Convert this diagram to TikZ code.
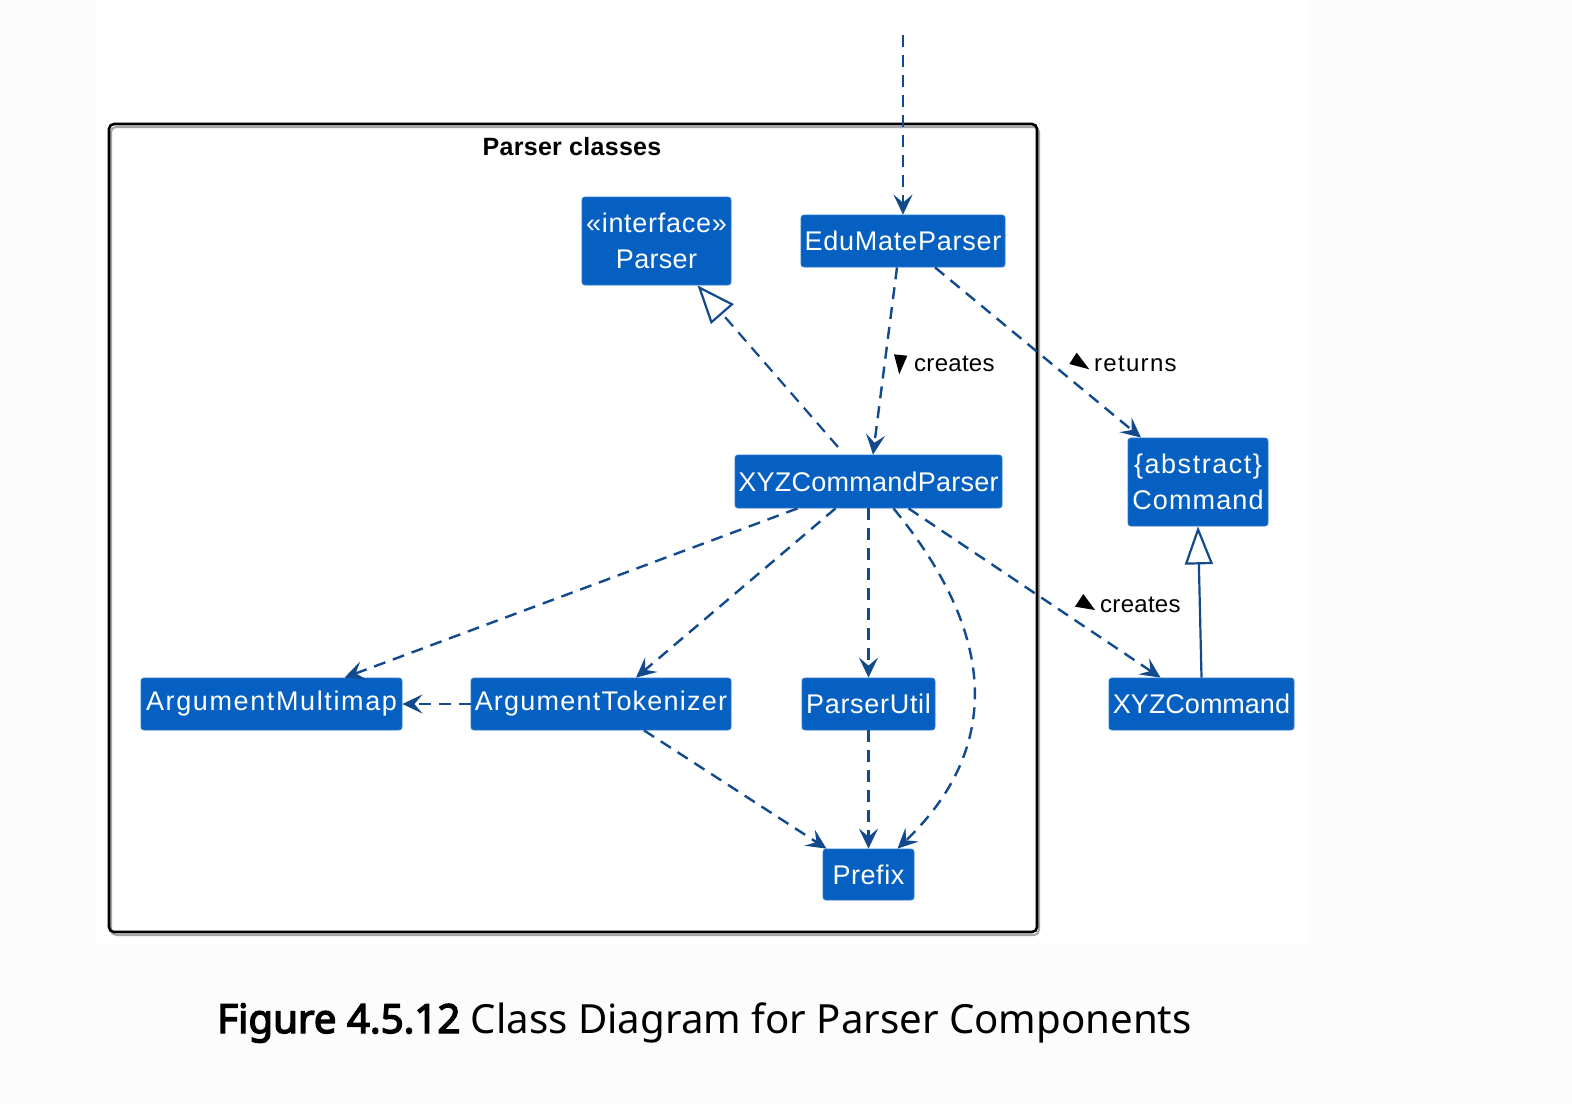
\documentclass[tikz,border=0pt]{standalone}
\usepackage{fontspec}
\setmainfont{Liberation Sans}
\newfontfamily\capfont{Noto Sans}
\newfontfamily\capbold{Noto Sans}[FakeBold=3.5]
\usetikzlibrary{arrows.meta}
\definecolor{boxblue}{HTML}{0560C2}
\definecolor{boxedge}{HTML}{2A78CF}
\definecolor{linkblue}{HTML}{134A8E}
\definecolor{pagebg}{HTML}{FCFCFC}
\newcommand{\ls}[2]{{\addfontfeature{LetterSpace=#1}#2}}
\tikzset{
  cls/.style={draw=boxedge, line width=0.8pt, fill=boxblue, rounded corners=3pt, text=white,
    font=\fontsize{27}{36}\selectfont, inner sep=0pt, align=center},
  dep/.style={draw=linkblue, line width=2.4pt, dash pattern=on 12pt off 8pt,
    -{Stealth[length=20pt,width=19pt,inset=8pt]}},
  realize/.style={draw=linkblue, line width=2.2pt, dash pattern=on 12pt off 8pt,
    -{Triangle[open,length=38pt,width=30pt,fill=white]}},
  extend/.style={draw=linkblue, line width=2.2pt,
    -{Triangle[open,length=38pt,width=28pt,fill=white]}},
  lbl/.style={font=\fontsize{24}{28}\selectfont, anchor=west, inner sep=0pt},
}
\begin{document}
\begin{tikzpicture}[x=1pt,y=-1pt]
\useasboundingbox (0,0) rectangle (1572,1104);
\fill[pagebg] (0,0) rectangle (1572,1104);
\fill[white] (95,0) rectangle (1308,945);
% package frame
\draw[gray!70, line width=2pt, rounded corners=5pt] (111,127) rectangle (1039,935);
\draw[black, line width=2.6pt, rounded corners=5pt] (109,124) rectangle (1037,932);
\node[font=\bfseries\fontsize{25}{29}\selectfont, inner sep=0pt] (pkg) at (572,147) {\ls{1.2}{Parser classes}};

% classes
\node[cls, minimum width=149pt, minimum height=88pt] (parser) at (656.5,241) {\ls{2.7}{«interface»}\\\ls{1.2}{Parser}};
\node[cls, minimum width=204pt, minimum height=52pt] (edu) at (903,241) {\ls{2.9}{EduMateParser}};
\node[cls, minimum width=267pt, minimum height=53pt] (xyzcp) at (868.5,481.5) {\ls{0.9}{XYZCommandParser}};
\node[cls, minimum width=140pt, minimum height=88pt] (cmd) at (1198,482) {\ls{5.6}{\{abstract\}}\\\ls{4.2}{Command}};
\node[cls, minimum width=261pt, minimum height=52pt] (amm) at (271.5,704) {\ls{6}{ArgumentMultimap}};
\node[cls, minimum width=260pt, minimum height=52pt] (atk) at (601,704) {\ls{4.6}{ArgumentTokenizer}};
\node[cls, minimum width=133pt, minimum height=52pt] (pu) at (868.5,704) {\ls{2.6}{ParserUtil}};
\node[cls, minimum width=185pt, minimum height=52pt] (xyzc) at (1201.5,704) {XYZCommand};
\node[cls, minimum width=91pt, minimum height=51pt] (prefix) at (868.5,874.5) {\ls{1.9}{Prefix}};

% connectors
\coordinate (top) at (903,35);
\draw[dep] (top) -- (edu.north);
\draw[dep] ([xshift=-6pt]edu.south) -- ([xshift=4.5pt]xyzcp.north);
\draw[dep] ([xshift=32pt]edu.south) -- ([xshift=-57pt]cmd.north);
\coordinate (rstart) at (838,447);
\draw[realize] (rstart) -- ([xshift=41pt]parser.south);
\draw[dep] ([xshift=-71pt]xyzcp.south) -- ([xshift=73pt]amm.north);
\draw[dep] ([xshift=-33pt]xyzcp.south) -- ([xshift=35pt]atk.north);
\draw[dep] (xyzcp.south) -- (pu.north);
\draw[dep] ([xshift=25pt]xyzcp.south) .. controls (1010,650) and (990,760) .. ([xshift=29pt]prefix.north);
\draw[dep] ([xshift=40pt]xyzcp.south) -- ([xshift=-41pt]xyzc.north);
\draw[dep] (atk.west) -- (amm.east);
\draw[dep] ([xshift=43pt]atk.south) -- ([xshift=-42pt]prefix.north);
\draw[dep] (pu.south) -- (prefix.north);
\draw[extend] (xyzc.north) -- (cmd.south);

% labels with direction marks
\fill[black] (894,354.3) -- (907.3,355.7) -- (899.3,374.3) -- cycle;
\node[lbl] (l1) at (914,364) {\ls{1.2}{creates}};
\fill[black] (1076.7,352.7) -- (1069.3,364) -- (1089.3,369.3) -- cycle;
\node[lbl] (l2) at (1094,364) {\ls{5.4}{returns}};
\fill[black] (1083.3,594) -- (1075,606.7) -- (1095,610) -- cycle;
\node[lbl] (l3) at (1100,605) {\ls{1.2}{creates}};

% caption
\node[font=\capfont\fontsize{40.2}{46}\selectfont, anchor=base west, inner sep=0pt] (cap) at (217,1033)
  {{\capbold Figure 4.5.12} Class Diagram for Parser Components};
\end{tikzpicture}
\end{document}
